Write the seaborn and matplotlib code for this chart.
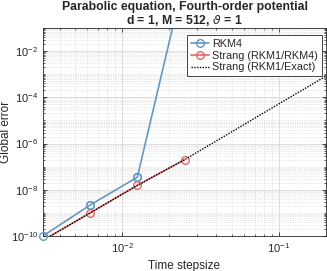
import numpy as np
import pandas as pd
import matplotlib
matplotlib.use("Agg")
import matplotlib.pyplot as plt
import matplotlib.ticker as mticker
import seaborn as sns

# Data
dt_rkm4 = [0.003125, 0.00625, 0.0125, 0.025]
err_rkm4 = [1.0e-10, 2.2e-9, 3.5e-8, 16.0]

dt_strang4 = [0.003125, 0.00625, 0.0125, 0.025]
err_strang4 = [6.5e-11, 1.0e-9, 1.55e-8, 2.0e-7]

dt_exact = [0.003125, 0.00625, 0.0125, 0.025, 0.05, 0.1, 0.2]
err_exact = [6.5e-11, 1.0e-9, 1.55e-8, 2.0e-7, 3.2e-6, 5.2e-5, 8.3e-4]

labels = ["RKM4", "Strang (RKM1/RKM4)", "Strang (RKM1/Exact)"]
yticks = [1e-10, 1e-8, 1e-6, 1e-4, 1e-2]
xticks = [1e-2, 1e-1]

sns.set_theme(style="white")
plt.rcParams["font.family"] = ["Liberation Sans", "DejaVu Sans"]
plt.rcParams["mathtext.fontset"] = "dejavusans"

fig = plt.figure(figsize=(3.27, 2.71), dpi=100)
ax = fig.add_axes([43/327, 35/271, (326-43)/327, (236-28)/271])

blue = "#6497c2"
red = "#e06868"

df1 = pd.DataFrame({"dt": dt_rkm4, "err": err_rkm4})
df2 = pd.DataFrame({"dt": dt_strang4, "err": err_strang4})
df3 = pd.DataFrame({"dt": dt_exact, "err": err_exact})

sns.lineplot(data=df1, x="dt", y="err", ax=ax, color=blue, lw=1.2, marker="o",
             markersize=5.5, markerfacecolor="none", markeredgecolor=blue,
             markeredgewidth=1.0, label=labels[0], estimator=None)
sns.lineplot(data=df2, x="dt", y="err", ax=ax, color=red, lw=1.2, marker="o",
             markersize=5.5, markerfacecolor="none", markeredgecolor=red,
             markeredgewidth=1.0, label=labels[1], estimator=None)
sns.lineplot(data=df3, x="dt", y="err", ax=ax, color="black", lw=1.0,
             linestyle=(0, (1, 1)), label=labels[2], estimator=None)
# unclipped blue markers (MATLAB draws markers on the axes edge in full)
ax.plot(df1["dt"], df1["err"], ls="none", marker="o", markersize=5.5,
        markerfacecolor="none", markeredgecolor=blue, markeredgewidth=1.0,
        clip_on=False, zorder=5)

ax.set_xscale("log")
ax.set_yscale("log")
ax.set_xlim(0.003125, 0.2)
ax.set_ylim(1e-10, 1e-1)

ax.yaxis.set_major_locator(mticker.FixedLocator(yticks))
ax.yaxis.set_minor_locator(mticker.LogLocator(base=10, subs=np.arange(1, 10), numticks=30))
ax.xaxis.set_major_locator(mticker.FixedLocator(xticks))
ax.xaxis.set_minor_locator(mticker.LogLocator(base=10, subs=np.arange(1, 10), numticks=30))
ax.yaxis.set_major_formatter(mticker.LogFormatterSciNotation())
ax.xaxis.set_major_formatter(mticker.LogFormatterSciNotation())
ax.yaxis.set_minor_formatter(mticker.NullFormatter())
ax.xaxis.set_minor_formatter(mticker.NullFormatter())

ax.grid(which="major", color="#d8d8d8", lw=0.6, ls="-")
ax.grid(which="minor", color="#d4d4d4", lw=0.5, ls=(0, (1, 1.5)))
ax.set_axisbelow(True)

ax.tick_params(which="both", direction="in", labelsize=8, colors="#262626",
               top=True, right=True, left=True, bottom=True)
ax.tick_params(which="major", length=3, width=0.6)
ax.tick_params(which="minor", length=1.5, width=0.5)
for s in ax.spines.values():
    s.set_color("#262626")
    s.set_linewidth(0.6)

ax.set_xlabel("Time stepsize", fontsize=8.5, labelpad=4)
ax.set_ylabel("Global error", fontsize=8.5)
ax.yaxis.set_label_coords(-0.108, 0.5)
ax.set_title("Parabolic equation, Fourth-order potential\nd = 1, M = 512, $\\vartheta$ = 1",
             fontsize=8.8, fontweight="bold", linespacing=1.0, pad=1.5)

leg = ax.legend(loc="upper right", bbox_to_anchor=(0.985, 0.965), fontsize=7.8,
                frameon=True, fancybox=False,
                edgecolor="#262626", framealpha=1, borderpad=0.35, labelspacing=0.15,
                handlelength=1.7, handletextpad=0.3, borderaxespad=0.0)
leg.get_frame().set_linewidth(0.6)

fig.savefig("out.png", dpi=100)
